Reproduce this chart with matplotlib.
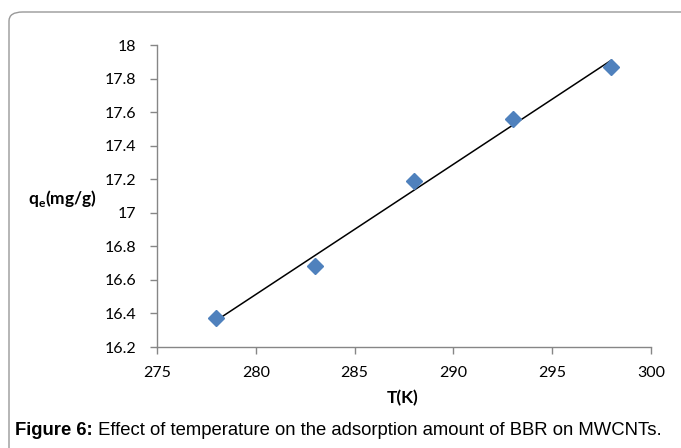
import numpy as np
import matplotlib.pyplot as plt
from matplotlib.patches import FancyBboxPatch

# adsorption temperature (K) and equilibrium uptake q_e (mg/g)
temperature = [278, 283, 288, 293, 298]
qe = [16.37, 16.68, 17.19, 17.56, 17.87]

x_ticks = [275, 280, 285, 290, 295, 300]
y_ticks = [16.2, 16.4, 16.6, 16.8, 17, 17.2, 17.4, 17.6, 17.8, 18]
caption_bold = "Figure 6:"
caption_text = " Effect of temperature on the adsorption amount of BBR on MWCNTs."

tick_font = "Lato"
axis_grey = "#868686"

fig = plt.figure(figsize=(6.81, 4.48), dpi=100)

# rounded frame around the figure panel
frame = FancyBboxPatch((9 / 681, -0.1), 1.1, 1 - 12 / 448 + 0.1,
                       boxstyle="round,pad=0,rounding_size=0.02",
                       transform=fig.transFigure, fill=False,
                       edgecolor="#999999", linewidth=1.0)
fig.patches.append(frame)

ax = fig.add_axes([157 / 681, 1 - 347 / 448, (651 - 157) / 681, (347 - 45) / 448])

# linear trend line
slope, intercept = np.polyfit(temperature, qe, 1)
tx = np.array([temperature[0], temperature[-1]])
ax.plot(tx, slope * tx + intercept, color="black", linewidth=1.1, zorder=2)

ax.plot(temperature, qe, linestyle="none", marker="D", markersize=8.5,
        color="#4F81BD", markeredgecolor="#4F81BD", zorder=3, clip_on=False)

ax.set_xlim(275, 300)
ax.set_ylim(16.2, 18)
ax.set_xticks(x_ticks)
ax.set_yticks(y_ticks)
ax.set_xticklabels([str(v) for v in x_ticks])
ax.set_yticklabels([f"{v:g}" for v in y_ticks])

for side in ["top", "right"]:
    ax.spines[side].set_visible(False)
for side in ["left", "bottom"]:
    ax.spines[side].set_color(axis_grey)
    ax.spines[side].set_linewidth(1.0)
ax.tick_params(axis="both", direction="out", length=5, width=1.0,
               color=axis_grey, labelsize=11.5)
ax.tick_params(axis="y", pad=10)
ax.tick_params(axis="x", pad=9)
for lbl in ax.get_xticklabels() + ax.get_yticklabels():
    lbl.set_fontfamily(tick_font)

fig.text(403 / 681, 1 - 398 / 448, "T(K)", fontfamily=tick_font,
         fontweight="bold", fontsize=12.5, ha="center", va="center")
fig.text(62 / 681, 1 - 198 / 448, r"q$_\mathregular{e}$(mg/g)", fontfamily=tick_font,
         fontweight="bold", fontsize=12.5, ha="center", va="center")

cap_y = 1 - 430 / 448
t1 = fig.text(15 / 681, cap_y, caption_bold, fontfamily="Liberation Sans",
              fontweight="bold", fontsize=13.3, va="center", ha="left")
fig.canvas.draw()
bb = t1.get_window_extent()
fig.text(bb.x1 / 681, cap_y, caption_text, fontfamily="Liberation Sans",
         fontsize=13.3, va="center", ha="left")

fig.savefig("out.png", dpi=100)
